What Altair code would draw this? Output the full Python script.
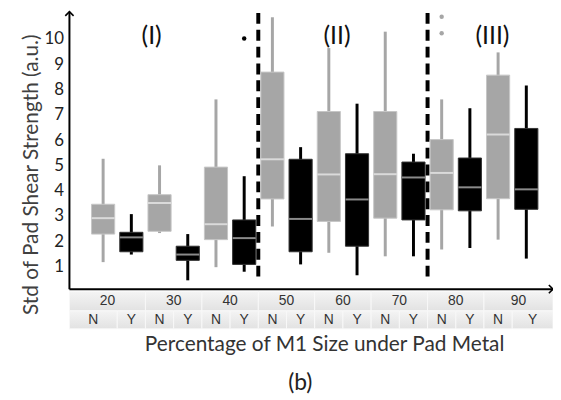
import altair as alt
import pandas as pd

# ---------------- data ----------------
percent = ["20", "30", "40", "50", "60", "70", "80", "90"]
conds = ["N", "Y"]
whisker_low = [1.17, 1.47, 2.32, 0.45, 0.97, 0.79, 2.58, 1.08, 1.54, 0.65, 1.40, 1.40, 1.67, 1.73, 2.06, 1.31]
q1 = [2.28, 1.58, 2.39, 1.24, 2.06, 1.08, 3.67, 1.58, 2.78, 1.80, 2.91, 2.84, 3.24, 3.20, 3.68, 3.26]
median = [2.91, 2.15, 3.51, 1.47, 2.67, 2.12, 5.24, 2.88, 4.64, 3.65, 4.65, 4.52, 4.70, 4.13, 6.22, 4.05]
q3 = [3.46, 2.35, 3.84, 1.80, 4.93, 2.84, 8.69, 5.24, 7.13, 5.46, 7.13, 5.13, 6.02, 5.29, 8.57, 6.46]
whisker_high = [5.26, 3.07, 5.00, 2.28, 7.61, 4.57, 10.86, 5.72, 9.64, 7.44, 10.29, 5.46, 7.61, 7.26, 9.47, 8.16]
outlier_box = [5, 12, 12]
outlier_val = [10.02, 10.88, 10.23]
region_names = ["(I)", "(II)", "(III)"]
region_pos = [1.72, 8.29, 13.8]
region_val = [10.1, 10.1, 10.1]
dividers = [5.5, 11.5]

# ---------------- layout constants ----------------
XMIN, XMAX = -1.194, 15.946
YMIN, YMAX = -1.47, 11.157
AXIS_Y = 0.1
ARROW_TOP = 11.08
ROW_SPLIT = -0.76
TABLE_TOP = 0.0
HALF = 0.41

FILL = {"N": "#a6a6a6", "Y": "#000000"}
STROKE = {"N": "#c6c6c6", "Y": "#333333"}
MED = {"N": "#dadada", "Y": "#8a8a8a"}

n = len(q1)
boxes = pd.DataFrame({
    "pos": list(range(n)),
    "pct": [percent[i // 2] for i in range(n)],
    "cond": [conds[i % 2] for i in range(n)],
    "wlo": whisker_low, "q1": q1, "med": median, "q3": q3, "whi": whisker_high,
})
boxes["left"] = boxes["pos"] - HALF
boxes["right"] = boxes["pos"] + HALF
boxes["fill"] = boxes["cond"].map(FILL)
boxes["stroke"] = boxes["cond"].map(STROKE)
boxes["medc"] = boxes["cond"].map(MED)

outl = pd.DataFrame({"pos": outlier_box, "val": outlier_val})
outl["color"] = [FILL[conds[b % 2]] for b in outlier_box]

regions = pd.DataFrame({"name": region_names, "pos": region_pos, "val": region_val})
divs = pd.DataFrame({"pos": dividers, "y0": [0.6] * len(dividers), "y1": [ARROW_TOP] * len(dividers)})

# table cells
row1 = []
for k, p in enumerate(percent):
    x0 = XMIN if k == 0 else 2 * k - 0.5
    x1 = XMAX if k == len(percent) - 1 else 2 * k + 1.5
    row1.append({"label": p, "x0": x0, "x1": x1, "xc": (x0 + x1) / 2, "y0": TABLE_TOP, "y1": ROW_SPLIT})
row2 = []
for i in range(n):
    x0 = XMIN if i == 0 else i - 0.5
    x1 = XMAX if i == n - 1 else i + 0.5
    row2.append({"label": conds[i % 2], "x0": x0, "x1": x1, "xc": (x0 + x1) / 2, "y0": ROW_SPLIT, "y1": YMIN})
row1 = pd.DataFrame(row1)
row2 = pd.DataFrame(row2)
row1["yc"] = (TABLE_TOP + ROW_SPLIT) / 2
row2["yc"] = (ROW_SPLIT + YMIN) / 2

axes_df = pd.DataFrame({
    "x0": [XMIN, XMIN], "x1": [XMAX, XMIN],
    "y0": [AXIS_Y, AXIS_Y], "y1": [AXIS_Y, ARROW_TOP],
})
arrow_up = pd.DataFrame({"x": [XMIN], "y": [ARROW_TOP]})
arrow_right = pd.DataFrame({"x": [XMAX], "y": [AXIS_Y]})

# ---------------- scales / axes ----------------
xscale = alt.Scale(domain=[XMIN, XMAX], nice=False, zero=False)
yscale = alt.Scale(domain=[YMIN, YMAX], nice=False, zero=False)
xaxis = alt.Axis(labels=False, ticks=False, domain=False, grid=False,
                 title="Percentage of M1 Size under Pad Metal", titleFontSize=21,
                 titleFont="Lato", titleFontWeight="normal", titleColor="#333333",
                 titlePadding=5, titleX=257)
yaxis = alt.Axis(values=list(range(1, 11)), ticks=False, domain=False, grid=False,
                 labelFontSize=17, labelFont="Lato", labelColor="#222222", labelPadding=6,
                 title="Std of Pad Shear Strength (a.u.)", titleFontSize=21, titleFont="Lato",
                 titleFontWeight="normal", titleColor="#404040", titlePadding=3, titleY=166)


def X(f):
    return alt.X(f, type="quantitative", scale=xscale, axis=xaxis)


def Y(f):
    return alt.Y(f, type="quantitative", scale=yscale, axis=yaxis)


grad = alt.LinearGradient(gradient="linear", x1=0, y1=0, x2=0, y2=1,
                          stops=[alt.GradientStop(offset=0, color="#f4f4f4"),
                                 alt.GradientStop(offset=1, color="#e2e2e2")])

t1 = alt.Chart(row1).mark_rect(fill=grad, stroke="#f8f8f8", strokeWidth=1).encode(
    x=X("x0"), x2="x1", y=Y("y0"), y2="y1")
t2 = alt.Chart(row2).mark_rect(fill=grad, stroke="#f8f8f8", strokeWidth=1).encode(
    x=X("x0"), x2="x1", y=Y("y0"), y2="y1")
tt1 = alt.Chart(row1).mark_text(font="Liberation Sans", fontSize=14, color="#333333", baseline="middle").encode(
    x=X("xc"), y=Y("yc"), text="label:N")
tt2 = alt.Chart(row2).mark_text(font="Liberation Sans", fontSize=14, color="#333333", baseline="middle").encode(
    x=X("xc"), y=Y("yc"), text="label:N")

axis_lines = alt.Chart(axes_df).mark_rule(color="black", strokeWidth=2).encode(
    x=X("x0"), x2="x1", y=Y("y0"), y2="y1")
up = alt.Chart(arrow_up).mark_point(shape="M-1,1L0,0L1,1", size=70, filled=False,
                                    color="black", strokeWidth=1.6, opacity=1).encode(x=X("x"), y=Y("y"))
right = alt.Chart(arrow_right).mark_point(shape="M-1,-1L0,0L-1,1", size=70, filled=False,
                                          color="black", strokeWidth=1.6, opacity=1).encode(x=X("x"), y=Y("y"))

dashed = alt.Chart(divs).mark_rule(color="black", strokeWidth=4, strokeDash=[11, 6]).encode(
    x=X("pos"), y=Y("y0"), y2="y1")

whiskers = alt.Chart(boxes).mark_rule(strokeWidth=3).encode(
    x=X("pos"), y=Y("wlo"), y2="whi", color=alt.Color("fill:N", scale=None))
rects = alt.Chart(boxes).mark_rect(strokeWidth=1).encode(
    x=X("left"), x2="right", y=Y("q1"), y2="q3",
    fill=alt.Fill("fill:N", scale=None), stroke=alt.Stroke("stroke:N", scale=None))
meds = alt.Chart(boxes).mark_rule(strokeWidth=2).encode(
    x=X("left"), x2="right", y=Y("med"), color=alt.Color("medc:N", scale=None))
pts = alt.Chart(outl).mark_circle(size=20, opacity=1).encode(
    x=X("pos"), y=Y("val"), color=alt.Color("color:N", scale=None))
labels = alt.Chart(regions).mark_text(font="Lato", fontSize=25, color="#111111", baseline="middle").encode(
    x=X("pos"), y=Y("val"), text="name:N")

chart = alt.layer(t1, t2, tt1, tt2, axis_lines, up, right, dashed, whiskers, rects, meds, pts, labels).properties(
    width=488, height=322,
    autosize=alt.AutoSizeParams(type="none"),
    padding={"left": 62, "top": 0, "right": 0, "bottom": 66},
    title=alt.TitleParams("(b)", orient="bottom", fontSize=23, font="Lato", fontWeight="normal",
                          color="#222222", dx=-11, offset=18, anchor="middle"),
).configure_view(stroke=None)

chart.save("out.html", embed_options={"renderer": "svg", "actions": False})
